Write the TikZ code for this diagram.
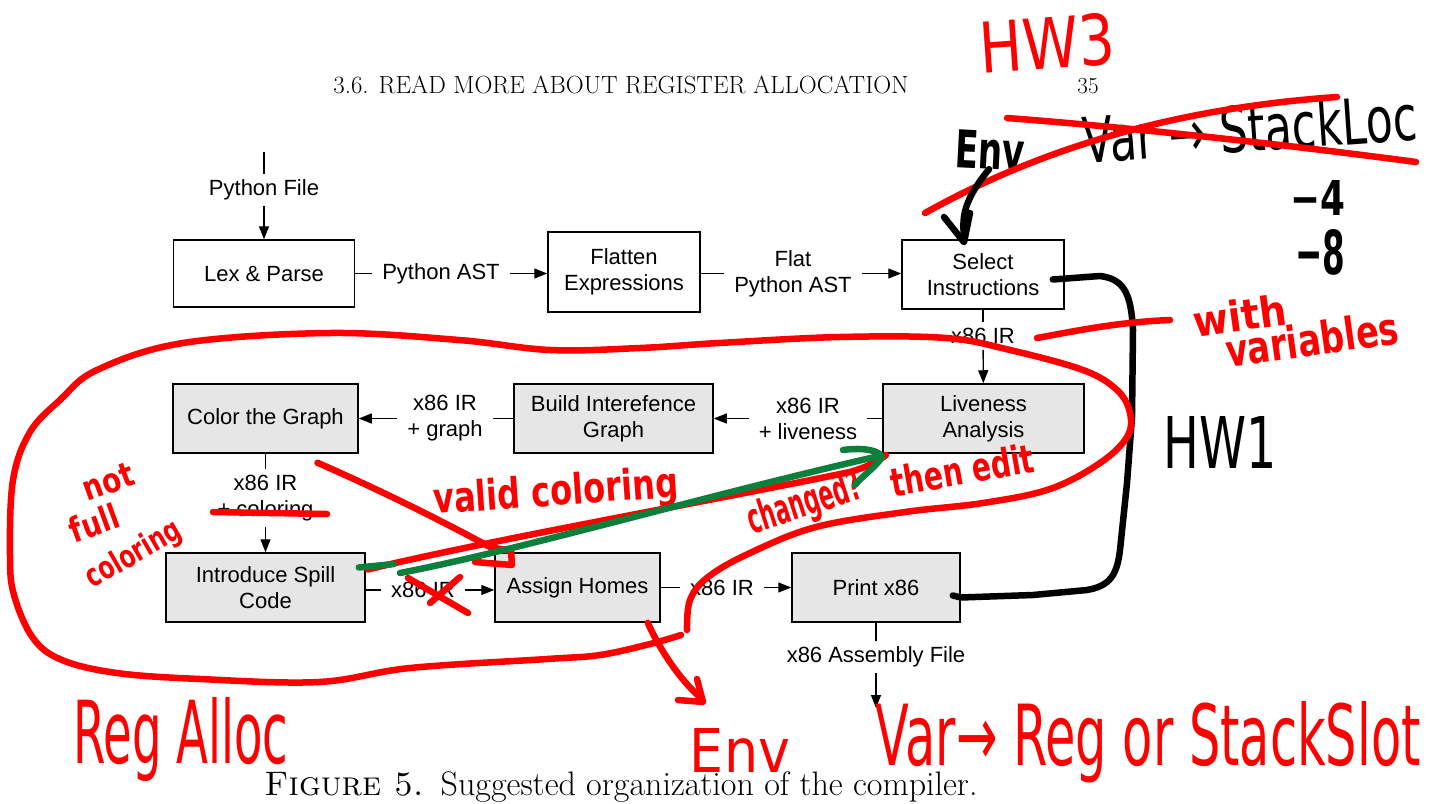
\documentclass[tikz,border=0pt]{standalone}
\usepackage{fontspec}
\usepackage{graphicx}
\usetikzlibrary{arrows.meta}
\newfontfamily\diagfont{Liberation Sans}
\newfontfamily\handfont{DejaVu Sans}
\definecolor{boxgray}{HTML}{E6E6E6}
\definecolor{penred}{HTML}{FF0000}
\definecolor{pengreen}{HTML}{0B7F3B}
\newcommand{\handtext}[3]{\resizebox{#1}{#2}{\handfont\bfseries #3}}
\newcommand{\handthin}[3]{\resizebox{#1}{#2}{\handfont #3}}
\tikzset{
  proc/.style={draw, line width=1.5pt, inner sep=0pt, align=center,
    font=\diagfont\fontsize{22}{26}\selectfont},
  gproc/.style={proc, fill=boxgray},
  lbl/.style={inner xsep=10pt, inner ysep=6pt, align=center,
    font=\diagfont\fontsize{22}{26}\selectfont},
  conn/.style={line width=1.3pt},
  arr/.style={conn, -{Triangle[length=13pt,width=10pt]}},
  redpen/.style={draw=penred, line width=6.5pt, line cap=round, line join=round},
  blackpen/.style={draw=black, line width=6.5pt, line cap=round, line join=round},
  greenpen/.style={draw=pengreen, line width=6.5pt, line cap=round, line join=round},
  hand/.style={inner sep=0pt},
}
\begin{document}
\begin{tikzpicture}[x=1pt,y=-1pt]
\useasboundingbox[fill=white] (0,0) rectangle (1429,803);

% running head and caption
\node[inner sep=0pt] (head) at (621,85) {\resizebox{575pt}{!}{\fontsize{20}{24}\selectfont 3.6. READ MORE ABOUT REGISTER ALLOCATION}};
\node[inner sep=0pt, font=\fontsize{23}{28}\selectfont] (page) at (1088,86) {35};
\node[inner sep=0pt] (cap) at (621,787) {\resizebox{713pt}{!}{\fontsize{20}{24}\selectfont\textsc{Figure 5.}\enspace Suggested organization of the compiler.}};

% boxes
\node[proc, minimum width=181pt, minimum height=67pt] (lex) at (264,273.5) {Lex \& Parse};
\node[proc, minimum width=152pt, minimum height=80pt] (flat) at (624,272) {Flatten\\Expressions};
\node[proc, minimum width=162pt, minimum height=69pt] (sel) at (983,274.5) {Select\\Instructions};
\node[gproc, minimum width=201pt, minimum height=69pt] (live) at (983.5,418.5) {Liveness\\Analysis};
\node[gproc, minimum width=199pt, minimum height=69pt] (build) at (613.5,418.5) {Build Interefence\\Graph};
\node[gproc, minimum width=185pt, minimum height=69pt] (color) at (265.5,418.5) {Color the Graph};
\node[gproc, minimum width=199pt, minimum height=69pt] (spill) at (265.5,587.5) {Introduce Spill\\Code};
\node[gproc, minimum width=165pt, minimum height=69pt] (assign) at (577.5,587.5) {Assign Homes};
\node[gproc, minimum width=168pt, minimum height=69pt] (print) at (876,587.5) {Print x86};

% labels
\coordinate (in) at (264,152);
\node[lbl] (pyfile) at (264,190) {Python File};
\node[lbl] (pyast) at (441,273.5) {Python AST};
\node[lbl] (flatast) at (793,273.5) {Flat\\Python AST};
\node[lbl] (ir1) at (983,336) {x86 IR};
\node[lbl] (irlive) at (808,418.5) {x86 IR\\+ liveness};
\node[lbl] (irgraph) at (445,418.5) {x86 IR\\+ graph};
\node[lbl] (ircolor) at (265.5,498) {x86 IR\\+ coloring};
\node[lbl] (ir2) at (423,590) {x86 IR};
\node[lbl] (ir3) at (722,587.5) {x86 IR};
\node[lbl] (asm) at (876,657) {x86 Assembly File};
\coordinate (out) at (876,708);

% connectors
\draw[conn] (in) -- (pyfile);
\draw[arr] (pyfile) -- (lex);
\draw[conn] (lex) -- (pyast);
\draw[arr] (pyast.east) -- (pyast.east -| flat.west);
\draw[conn] (flat.east |- flatast.west) -- (flatast.west);
\draw[arr] (flatast.east) -- (flatast.east -| sel.west);
\draw[conn] (sel) -- (ir1);
\draw[arr] (ir1) -- (live);
\draw[conn] (live) -- (irlive);
\draw[arr] (irlive) -- (build);
\draw[conn] (build) -- (irgraph);
\draw[arr] (irgraph) -- (color);
\draw[conn] (color) -- (ircolor);
\draw[arr] (ircolor) -- (spill);
\draw[conn] (spill.east |- ir2.west) -- (ir2.west);
\draw[arr] (ir2.east) -- (ir2.east -| assign.west);
\draw[conn] (assign) -- (ir3);
\draw[arr] (ir3) -- (print);
\draw[conn] (print) -- (asm);
\draw[arr] (asm) -- (out);

% ---------------- handwritten annotations ----------------
\node[hand, text=penred, rotate=4] (hw3) at (1047,43) {\handthin{135pt}{52pt}{HW3}};
\node[hand, rotate=-3] (envk) at (990,150) {\handtext{70pt}{38pt}{Env}};
\node[hand, rotate=4] (varstack) at (1250,128) {\handthin{335pt}{48pt}{Var → StackLoc}};
\node[hand] (m4) at (1318,198) {\handtext{55pt}{35pt}{−4}};
\node[hand] (m8) at (1320,252) {\handtext{50pt}{45pt}{−8}};
\node[hand] (hw1) at (1220,442) {\handthin{113pt}{52pt}{HW1}};
\node[hand, text=penred, rotate=8] (with) at (1240,315) {\handtext{94pt}{32pt}{with}};
\node[hand, text=penred, rotate=8] (vars) at (1312,339) {\handtext{174pt}{34pt}{variables}};
\node[hand, text=penred, rotate=4] (valid) at (556,494) {\handtext{245pt}{32pt}{valid coloring}};
\node[hand, text=penred, rotate=18] (changed) at (805,505) {\handtext{118pt}{32pt}{changed?}};
\node[hand, text=penred, rotate=10] (thenedit) at (962,470) {\handtext{145pt}{30pt}{then edit}};
\node[hand, text=penred, rotate=20] (notw) at (108,482) {\handtext{52pt}{24pt}{not}};
\node[hand, text=penred, rotate=20] (fullw) at (94,523) {\handtext{50pt}{26pt}{full}};
\node[hand, text=penred, rotate=30] (colw) at (134,555) {\handtext{105pt}{24pt}{coloring}};
\node[hand, text=penred] (regalloc) at (181,740) {\handthin{215pt}{66pt}{Reg Alloc}};
\node[hand, text=penred] (envr) at (740,750) {\handthin{100pt}{44pt}{Env}};
\node[hand, text=penred] (varreg) at (1148,742) {\handthin{545pt}{64pt}{Var→ Reg or StackSlot}};

% crossing-out of the top note
\draw[redpen] (1007,118) .. controls (1100,125) and (1250,140) .. (1416,162);
\draw[redpen] (925,213) .. controls (1020,160) and (1150,110) .. (1337,97);
% Env arrow to Select Instructions
\draw[blackpen] (envk.south) .. controls (960,205) and (963,220) .. ([xshift=-19pt]sel.north);
\draw[blackpen] (944,217) -- ([xshift=-19pt,yshift=-3]sel.north) -- (970,213);
% HW1 loop
\draw[blackpen] ([shift={(-12,5)}]sel.east) -- (1100,276) .. controls (1125,279) and (1131,295) .. (1133,330)
  -- (1132,417) -- (1127,483) -- (1120,550) .. controls (1117,575) and (1110,586) .. (1087,590)
  -- (1033,595) -- ([shift={(0,10)}]print.east) -- ([shift={(-8,8)}]print.east);
% with variables underline
\draw[redpen] (1037,338) .. controls (1080,330) and (1120,322) .. (1170,320);

% big register-allocation loop
\draw[redpen] plot[smooth, tension=0.6] coordinates {
  (687,630) (690,600) (708,577) (750,553) (816,527) (905,512) (983,503) (1050,489)
  (1100,463) (1127,437) (1130,413) (1117,390) (1083,370) (1010,350) (946,338)
  (840,337) (719,343) (640,348) (550,350) (459,340) (330,333) (183,343) (97,370)
  (60,400) (30,432) (13,480) (10,555) (14,595) (33,638) (62,660) (117,673) (200,679)
  (319,682) (410,668) (547,659) (600,655) (650,644) (681,635)};
% arrow to Env
\draw[redpen] ([xshift=-13pt]assign.south east) .. controls (660,650) and (680,680) .. (701,698);
\draw[redpen] (678,700) -- (703,702) -- (697,679);
% strike over "+ coloring"
\draw[redpen] (213,512) -- (327,514);
% X over x86 IR
\draw[redpen] (408,578) -- (468,613);
\draw[redpen] (430,603) -- (460,577);
% valid coloring arrow
\draw[redpen] ([shift={(52,9)}]color.south) .. controls (380,490) and (440,520) .. (490,547)
  -- (511,551) -- (512,565) -- (475,562);
% changed? then edit: red and green arrows to Liveness
\draw[redpen] ([shift={(2,-18)}]spill.east) .. controls (480,542) and (700,503) .. (850,472)
  .. controls (870,466) and (880,460) .. (886,455);
\draw[greenpen] ([shift={(-7,-20)}]spill.east) -- (394,564);
\draw[greenpen] (400,573) .. controls (520,550) and (700,497) .. (875,457);
\draw[greenpen] (843,450) .. controls (865,447) and (880,451) .. (882,457)
  .. controls (875,468) and (862,476) .. (855,485);
\end{tikzpicture}
\end{document}
